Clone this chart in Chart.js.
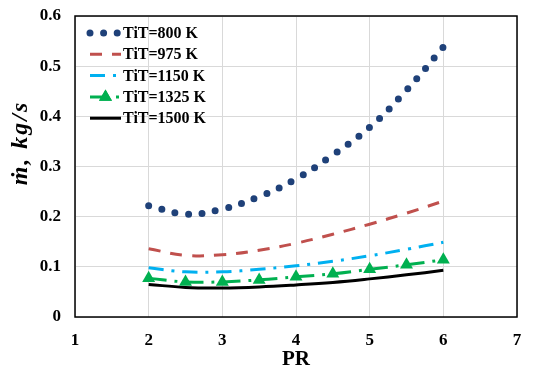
<!DOCTYPE html>
<html>
<head>
<meta charset="utf-8">
<script src="https://cdn.jsdelivr.net/npm/chart.js@4.4.0/dist/chart.umd.min.js"></script>
<style>
  html, body { margin: 0; padding: 0; background: #ffffff; }
  #wrap { width: 533px; height: 379px; }
</style>
</head>
<body>
<div id="wrap"><canvas id="c" width="533" height="379"></canvas></div>
<script>
// ---- data ----
const prValues = [2, 2.5, 3, 3.5, 4, 4.5, 5, 5.5, 6];
const seriesNames = ['TiT=800 K', 'TiT=975 K', 'TiT=1150 K', 'TiT=1325 K', 'TiT=1500 K'];
const tit800  = [0.222, 0.205, 0.215, 0.240, 0.275, 0.323, 0.378, 0.452, 0.538];
const tit975  = [0.136, 0.123, 0.124, 0.133, 0.147, 0.165, 0.185, 0.207, 0.231];
const tit1150 = [0.098, 0.090, 0.090, 0.095, 0.102, 0.111, 0.122, 0.135, 0.149];
const tit1325 = [0.077, 0.070, 0.070, 0.074, 0.080, 0.086, 0.095, 0.104, 0.114];
const tit1500 = [0.065, 0.059, 0.058, 0.060, 0.064, 0.069, 0.076, 0.084, 0.093];
const xTickValues = [1, 2, 3, 4, 5, 6, 7];
const yTickValues = [0, 0.1, 0.2, 0.3, 0.4, 0.5, 0.6];
const xTitle = 'PR';
const yTitle = '\u1E41, kg/s';

const SERIF = '"Liberation Serif", "Times New Roman", serif';

function pts(ys) { return prValues.map((x, i) => ({ x: x, y: ys[i] })); }

const datasets = [
  { label: seriesNames[0], data: pts(tit800), borderColor: '#1F4179', backgroundColor: '#1F4179',
    borderWidth: 7, borderDash: [0, 13.6], borderCapStyle: 'round', pointRadius: 0 },
  { label: seriesNames[1], data: pts(tit975), borderColor: '#C0504D', backgroundColor: '#C0504D',
    borderWidth: 3, borderDash: [12, 10], pointRadius: 0 },
  { label: seriesNames[2], data: pts(tit1150), borderColor: '#00B0F0', backgroundColor: '#00B0F0',
    borderWidth: 3, borderDash: [15, 8, 3, 8], pointRadius: 0 },
  { label: seriesNames[3], data: pts(tit1325), borderColor: '#00B050', backgroundColor: '#00B050',
    borderWidth: 3, borderDash: [18, 8, 3, 8], pointRadius: 7.5, pointStyle: 'triangle',
    pointBorderWidth: 0, pointBackgroundColor: '#00B050' },
  { label: seriesNames[4], data: pts(tit1500), borderColor: '#000000', backgroundColor: '#000000',
    borderWidth: 3, pointRadius: 0 }
];
datasets.forEach(d => { d.tension = 0.4; d.fill = false; });

const framePlugin = {
  id: 'frame',
  afterDatasetsDraw(chart) {
    const { ctx, chartArea: a } = chart;
    ctx.save();
    ctx.strokeStyle = '#000';
    ctx.lineWidth = 1.5;
    ctx.strokeRect(a.left, a.top, a.right - a.left, a.bottom - a.top);
    ctx.restore();
  }
};

const legendPlugin = {
  id: 'customLegend',
  afterDraw(chart) {
    const { ctx, chartArea: a } = chart;
    const x0 = a.left + 15, x1 = a.left + 46, tx = a.left + 48;
    ctx.save();
    chart.data.datasets.forEach((ds, i) => {
      const y = a.top + 17 + i * 21.3;
      ctx.save();
      ctx.strokeStyle = ds.borderColor;
      ctx.lineWidth = ds.borderWidth;
      ctx.lineCap = ds.borderCapStyle || 'butt';
      ctx.setLineDash(ds.borderDash || []);
      ctx.beginPath();
      ctx.moveTo(x0, y);
      ctx.lineTo(x1, y);
      ctx.stroke();
      ctx.restore();
      if (ds.pointStyle && ds.pointRadius > 0) {
        ctx.save();
        ctx.fillStyle = ds.pointBackgroundColor;
        Chart.helpers.drawPoint(ctx, { pointStyle: ds.pointStyle, radius: ds.pointRadius, borderWidth: 0, rotation: 0 }, (x0 + x1) / 2, y);
        ctx.fill();
        ctx.restore();
      }
      ctx.fillStyle = '#000';
      ctx.font = 'bold 16px ' + SERIF;
      ctx.textBaseline = 'middle';
      ctx.textAlign = 'left';
      ctx.fillText(ds.label, tx, y + 1);
    });
    // y axis title
    ctx.translate(21, 143);
    ctx.rotate(-Math.PI / 2);
    ctx.font = 'italic bold 24px ' + SERIF;
    try { ctx.letterSpacing = '2px'; } catch (e) {}
    ctx.textAlign = 'center';
    ctx.textBaseline = 'middle';
    ctx.fillStyle = '#000';
    ctx.fillText(yTitle, 0, 0);
    ctx.restore();
  }
};

new Chart(document.getElementById('c'), {
  type: 'line',
  data: { datasets: datasets },
  options: {
    responsive: false,
    animation: false,
    layout: { padding: { left: 0, right: 16, top: 16, bottom: 0 } },
    plugins: { legend: { display: false }, tooltip: { enabled: false } },
    scales: {
      x: {
        type: 'linear', min: 1, max: 7,
        afterBuildTicks(scale) { scale.ticks = xTickValues.map(v => ({ value: v })); },
        afterFit(scale) { scale.height = 62; scale.paddingLeft = 0; scale.paddingRight = 0; },
        grid: { color: '#D9D9D9', lineWidth: 1, drawTicks: false },
        border: { display: false },
        ticks: { color: '#000', padding: 13, font: { family: SERIF, size: 17, weight: 'bold' }, maxRotation: 0,
                 callback: v => String(v) },
        title: { display: true, text: xTitle, color: '#000', font: { family: SERIF, size: 21, weight: 'bold' },
                 padding: { top: 0, bottom: 7 } }
      },
      y: {
        type: 'linear', min: 0, max: 0.6,
        afterBuildTicks(scale) { scale.ticks = yTickValues.map(v => ({ value: v })); },
        afterFit(scale) { scale.width = 75; scale.paddingTop = 0; scale.paddingBottom = 0; },
        grid: { color: '#D9D9D9', lineWidth: 1, drawTicks: false },
        border: { display: false },
        ticks: { color: '#000', padding: 14, font: { family: SERIF, size: 17, weight: 'bold' },
                 callback: v => String(Math.round(v * 10) / 10) }
      }
    }
  },
  plugins: [framePlugin, legendPlugin]
});
</script>
</body>
</html>
